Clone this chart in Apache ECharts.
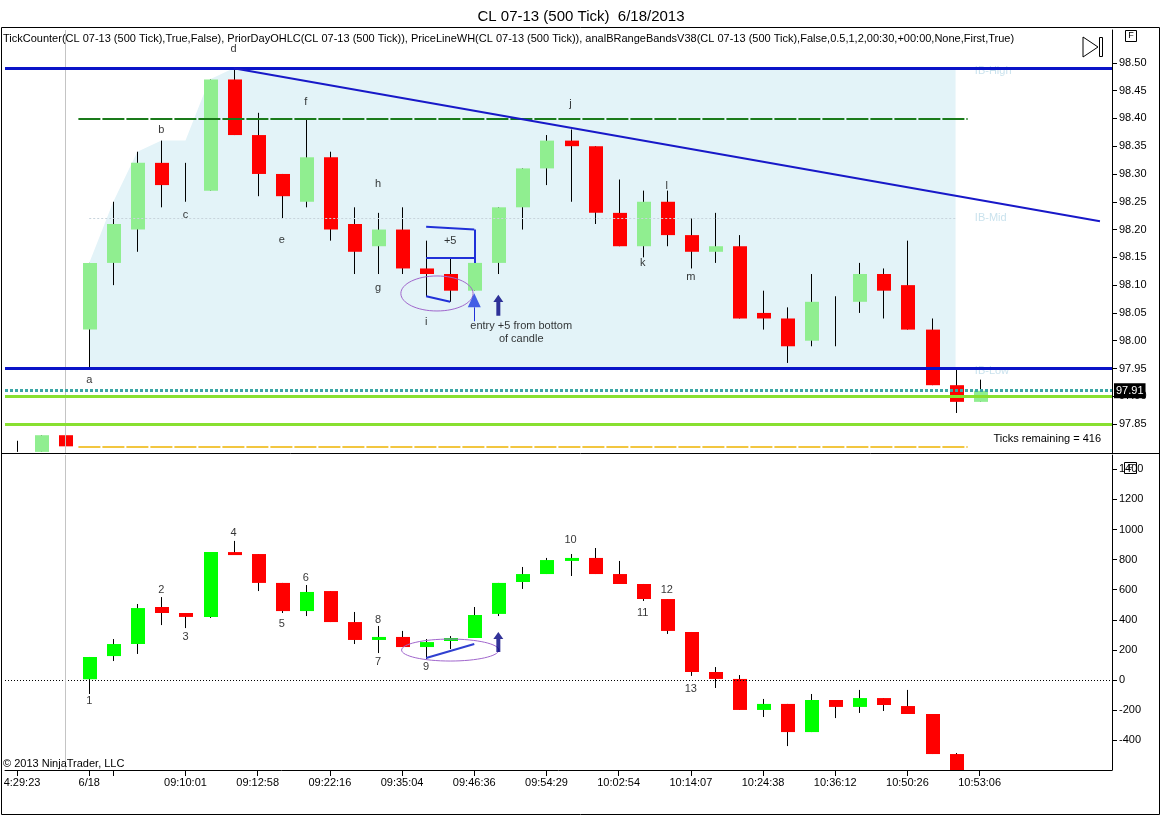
<!DOCTYPE html>
<html>
<head>
<meta charset="utf-8">
<script src="https://cdn.jsdelivr.net/npm/echarts@6/dist/echarts.min.js"></script>
<style>
html, body { margin: 0; padding: 0; background: #fff; }
#main { width: 1162px; height: 816px; }
</style>
</head>
<body>
<div id="main"></div>
<script>
// 500 tick bars, index = bar number
const priceOpen  = [97.81, 97.80, 97.83, 98.02, 98.14, 98.20, 98.32, 98.28, 98.27, 98.47, 98.37, 98.30, 98.25, 98.33, 98.21, 98.17, 98.20, 98.13, 98.12, 98.09, 98.14, 98.24, 98.31, 98.36, 98.35, 98.23, 98.17, 98.25, 98.19, 98.16, 98.17, 98.05, 98.04, 98.00, 98.03, 98.07, 98.12, 98.10, 98.02, 97.92, 97.89];
const priceClose = [97.81, 97.83, 97.81, 98.14, 98.21, 98.32, 98.28, 98.28, 98.47, 98.37, 98.30, 98.26, 98.33, 98.20, 98.16, 98.20, 98.13, 98.12, 98.09, 98.14, 98.24, 98.31, 98.36, 98.35, 98.23, 98.17, 98.25, 98.19, 98.16, 98.17, 98.04, 98.04, 97.99, 98.07, 98.03, 98.12, 98.09, 98.02, 97.92, 97.89, 97.91];
const priceHigh  = [97.82, 97.83, 97.87, 98.14, 98.25, 98.34, 98.36, 98.32, 98.47, 98.49, 98.41, 98.30, 98.40, 98.34, 98.24, 98.23, 98.24, 98.18, 98.15, 98.14, 98.24, 98.31, 98.37, 98.38, 98.35, 98.29, 98.27, 98.27, 98.22, 98.23, 98.19, 98.09, 98.06, 98.12, 98.08, 98.14, 98.13, 98.18, 98.04, 97.95, 97.93];
const priceLow   = [97.80, 97.80, 97.80, 97.95, 98.10, 98.16, 98.24, 98.25, 98.27, 98.37, 98.26, 98.22, 98.24, 98.18, 98.12, 98.12, 98.12, 98.08, 98.07, 98.09, 98.12, 98.20, 98.28, 98.25, 98.21, 98.17, 98.15, 98.17, 98.13, 98.14, 98.04, 98.02, 97.96, 97.99, 97.99, 98.05, 98.04, 98.02, 97.92, 97.87, 97.89];

// lower panel bars (same bar index)
const lowOpen  = [null, null, null, 5, 159, 239, 485, 445, 419, 850, 837, 645, 458, 591, 385, 266, 286, 219, 259, 279, 439, 651, 704, 797, 811, 704, 638, 538, 319, 53, 7, -199, -159, -346, -133, -179, -120, -173, -226, -492, null];
const lowClose = [null, null, null, 153, 239, 478, 445, 419, 850, 837, 645, 458, 585, 385, 266, 286, 219, 252, 279, 432, 645, 704, 797, 811, 704, 638, 538, 326, 53, 7, -199, -159, -346, -133, -179, -120, -166, -226, -492, -620, null];
const lowHigh  = [null, null, null, 153, 272, 505, 551, 445, 850, 924, 837, 645, 631, 591, 452, 359, 326, 272, 292, 485, 645, 751, 811, 837, 877, 791, 638, 538, 319, 86, 33, -126, -159, -93, -133, -66, -120, -66, -226, -485, null];
const lowLow   = [null, null, null, -93, 126, 173, 365, 345, 412, 837, 591, 445, 425, 385, 239, 179, 219, 140, 206, 279, 425, 605, 704, 691, 704, 638, 525, 306, 27, -53, -199, -246, -439, -346, -253, -219, -206, -226, -492, -620, null];

const timeTickBars = [0, 3, 4, 7, 10, 13, 16, 19, 22, 25, 28, 31, 34, 37, 40];
const timeTickText = ['4:29:23', '6/18', '', '09:10:01', '09:12:58', '09:22:16', '09:35:04', '09:46:36', '09:54:29', '10:02:54', '10:14:07', '10:24:38', '10:36:12', '10:50:26', '10:53:06'];
const priceTicks = [97.85, 97.90, 97.95, 98.00, 98.05, 98.10, 98.15, 98.20, 98.25, 98.30, 98.35, 98.40, 98.45, 98.50];
const lowTicks = [-400, -200, 0, 200, 400, 600, 800, 1000, 1200, 1400];

// levels
const ibHigh = 98.49, ibLow = 97.95;
const ibStart = 3, ibEnd = 39;
const priorHigh = 98.40, priorLow = 97.81;
const lineWH = [97.90, 97.85];
const lastPrice = 97.91;
const trendFrom = [9, 98.49], trendTo = [45, 98.215];

// bar notes
const upperNoteText  = ['a', 'b', 'c', 'd', 'e', 'f', 'h', 'g', 'i', 'j', 'k', 'l', 'm'];
const upperNoteBar   = [3, 6, 7, 9, 11, 12, 15, 15, 17, 23, 26, 27, 28];
const upperNotePrice = [97.929, 98.379, 98.226, 98.525, 98.181, 98.43, 98.282, 98.095, 98.034, 98.426, 98.14, 98.279, 98.115];
const lowerNoteText  = ['1', '2', '3', '4', '5', '6', '7', '8', '9', '10', '11', '12', '13'];
const lowerNoteBar   = [3, 6, 7, 9, 11, 12, 15, 15, 17, 23, 26, 27, 28];
const lowerNoteValue = [-140, 598, 286, 977, 372, 678, 122, 399, 86, 930, 445, 598, -60];

const fontFamily = 'Liberation Sans, Arial, sans-serif';

function toCandles(o, c, h, l) {
  const out = [];
  for (let i = 0; i < o.length; i++) {
    if (o[i] == null) continue;
    out.push([i, o[i], c[i], l[i], h[i]]);
  }
  return out;
}

function candleRenderer(upColor, downColor) {
  return function (params, api) {
    const cs = params.coordSys;
    const clampY = y => Math.max(cs.y, Math.min(cs.y + cs.height, y));
    const i = api.value(0), o = api.value(1), c = api.value(2), l = api.value(3), h = api.value(4);
    const pO = api.coord([i, o]), pC = api.coord([i, c]);
    const x = Math.round(pO[0]) + 0.5;
    const yH = clampY(api.coord([i, h])[1]), yL = clampY(api.coord([i, l])[1]);
    const w = 14;
    const top = clampY(Math.min(pO[1], pC[1])), bot = clampY(Math.max(pO[1], pC[1]));
    const kids = [{ type: 'line', shape: { x1: x, y1: yH, x2: x, y2: yL }, style: { stroke: '#000', lineWidth: 1 } }];
    if (o !== c) {
      kids.push({ type: 'rect', shape: { x: Math.round(x - w / 2), y: top, width: w, height: Math.max(bot - top, 3) },
                  style: { fill: c > o ? upColor : downColor } });
    }
    return { type: 'group', children: kids };
  };
}

function ellipseRenderer(params, api) {
  const c = api.coord([api.value(0), api.value(1)]);
  const s = api.size([api.value(2), api.value(3)]);
  return { type: 'ellipse', shape: { cx: c[0], cy: c[1], rx: s[0], ry: s[1] },
           style: { fill: 'none', stroke: '#a066cc', lineWidth: 1 } };
}

let runHigh = -Infinity;
const ibTop = [];
for (let i = ibStart; i <= ibEnd; i++) {
  runHigh = Math.max(runHigh, priceHigh[i]);
  ibTop.push([i, runHigh]);
}
const ibMid = (ibHigh + ibLow) / 2;

const noLabel = { show: false };
const seg = (a, b, style) => [{ coord: a, lineStyle: style }, { coord: b }];
const blueDraw = { color: '#2030d8', width: 2, type: 'solid' };

const chart = echarts.init(document.getElementById('main'));
chart.setOption({
  animation: false,
  textStyle: { fontFamily: fontFamily },
  title: {
    text: 'CL 07-13 (500 Tick)  6/18/2013', left: 'center', top: 4,
    textStyle: { fontSize: 15, fontWeight: 'normal', color: '#000', fontFamily: fontFamily }
  },
  grid: [
    { left: 5, top: 30, width: 1107, height: 423 },
    { left: 5, top: 455, width: 1107, height: 315 }
  ],
  xAxis: [
    { gridIndex: 0, type: 'value', min: -0.5, max: 45.5,
      axisLine: { show: false }, axisTick: { show: false }, axisLabel: { show: false }, splitLine: { show: false } },
    { gridIndex: 1, type: 'value', min: -0.5, max: 45.5,
      axisLine: { show: true, onZero: false, lineStyle: { color: '#000', width: 1 } },
      axisTick: { show: true, customValues: timeTickBars, length: 6, lineStyle: { color: '#000' } },
      axisLabel: {
        customValues: timeTickBars.filter((b, k) => timeTickText[k] !== ''),
        margin: 7, fontSize: 11, color: '#000',
        formatter: function (v) {
          const k = timeTickBars.indexOf(Math.round(v));
          const t = k >= 0 ? timeTickText[k] : '';
          return k === 0 ? '{s|' + t + '}' : t;
        },
        rich: { s: { padding: [0, 0, 0, 10], fontSize: 11, color: '#000' } }
      },
      splitLine: { show: false } }
  ],
  yAxis: [
    { gridIndex: 0, type: 'value', position: 'right', min: 97.798, max: 98.559,
      axisLine: { show: true, onZero: false, lineStyle: { color: '#000' } },
      axisTick: { show: true, customValues: priceTicks, length: 5, lineStyle: { color: '#000' } },
      axisLabel: { customValues: priceTicks, margin: 7, fontSize: 11, color: '#000', formatter: v => v.toFixed(2) },
      splitLine: { show: false } },
    { gridIndex: 1, type: 'value', position: 'right', min: -598, max: 1495,
      axisLine: { show: true, onZero: false, lineStyle: { color: '#000' } },
      axisTick: { show: true, customValues: lowTicks, length: 5, lineStyle: { color: '#000' } },
      axisLabel: { customValues: lowTicks, margin: 7, fontSize: 11, color: '#000', formatter: v => String(Math.round(v)) },
      splitLine: { show: false } }
  ],
  series: [
    { // developing IB band + level lines
      type: 'line', xAxisIndex: 0, yAxisIndex: 0, z: 1,
      data: ibTop, symbol: 'none', lineStyle: { width: 0 },
      areaStyle: { color: '#e3f3f8', opacity: 1, origin: ibLow },
      markLine: {
        silent: true, symbol: ['none', 'none'], label: noLabel,
        data: [
          { xAxis: 2, lineStyle: { color: '#c4c4c4', width: 1, type: 'solid' } },
          seg([ibStart, ibMid], [ibEnd, ibMid], { color: '#c8d4dc', width: 1, type: [2, 2] }),
          { yAxis: ibHigh, lineStyle: { color: '#0a14c8', width: 3, type: 'solid' } },
          { yAxis: ibLow, lineStyle: { color: '#0a14c8', width: 3, type: 'solid' } },
          seg([2.55, priorHigh], [39.5, priorHigh], { color: '#1a7a1a', width: 2, type: [22, 2] }),
          seg([2.55, priorLow], [39.5, priorLow], { color: '#f2c640', width: 2, type: [22, 2] }),
          { yAxis: lineWH[0], lineStyle: { color: '#88e030', width: 3, type: 'solid' } },
          { yAxis: lineWH[1], lineStyle: { color: '#88e030', width: 3, type: 'solid' } },
          { yAxis: lastPrice, lineStyle: { color: '#3aa6a6', width: 3, type: [3, 2] },
            label: { show: true, position: 'end', distance: 2, formatter: lastPrice.toFixed(2),
                     backgroundColor: '#000', color: '#fff', fontSize: 11, padding: [2, 2] } },
          seg(trendFrom, trendTo, { color: '#1818c8', width: 2, type: 'solid' }),
          seg([17, 98.205], [19, 98.20], blueDraw),
          seg([17, 98.15], [19, 98.15], blueDraw),
          seg([19, 98.20], [19, 98.14], blueDraw),
          seg([17, 98.08], [18, 98.07], blueDraw),
          seg([19, 98.06], [19, 98.035], { color: '#2030d8', width: 1, type: 'solid' })
        ]
      }
    },
    { type: 'custom', xAxisIndex: 0, yAxisIndex: 0, z: 2,
      renderItem: candleRenderer('#90ee90', '#ff0000'),
      encode: { x: 0, y: [1, 2, 3, 4] },
      data: toCandles(priceOpen, priceClose, priceHigh, priceLow) },
    { type: 'custom', xAxisIndex: 0, yAxisIndex: 0, z: 6, renderItem: ellipseRenderer,
      encode: { x: 0, y: 1 }, data: [[17.45, 98.085, 1.5, 0.0315]] },
    { type: 'scatter', xAxisIndex: 0, yAxisIndex: 0, z: 6, symbolSize: 0,
      data: upperNoteText.map((t, k) => ({ name: t, value: [upperNoteBar[k], upperNotePrice[k]] }))
        .concat([
          { name: '+5', value: [18, 98.18] },
          { name: 'entry +5 from bottom', value: [20.95, 98.026] },
          { name: 'of candle', value: [20.95, 98.003] }
        ]),
      label: { show: true, position: 'inside', formatter: '{b}', color: '#000', fontSize: 11 } },
    { type: 'scatter', xAxisIndex: 0, yAxisIndex: 0, z: 3, symbolSize: 0,
      data: [
        { name: 'IB-High', value: [39.8, 98.486] },
        { name: 'IB-Mid', value: [39.8, 98.22] },
        { name: 'IB-Low', value: [39.8, 97.946] }
      ],
      label: { show: true, position: 'inside', align: 'left', formatter: '{b}', color: '#bcdbe8', fontSize: 11 } },
    { type: 'scatter', xAxisIndex: 0, yAxisIndex: 0, z: 7, symbol: 'triangle', symbolSize: [13, 14],
      itemStyle: { color: '#1a3ae0' }, data: [[19, 98.073]] },
    { type: 'scatter', xAxisIndex: 0, yAxisIndex: 0, z: 7,
      symbol: 'path://M5,0L10,7L7,7L7,20L3,20L3,7L0,7Z', symbolSize: [10, 21],
      itemStyle: { color: '#000080' }, data: [[20, 98.064]] },

    // lower panel
    { type: 'custom', xAxisIndex: 1, yAxisIndex: 1, z: 2,
      renderItem: candleRenderer('#00ff00', '#ff0000'),
      encode: { x: 0, y: [1, 2, 3, 4] },
      data: toCandles(lowOpen, lowClose, lowHigh, lowLow) },
    { type: 'custom', xAxisIndex: 1, yAxisIndex: 1, z: 6, renderItem: ellipseRenderer,
      encode: { x: 0, y: 1 }, data: [[18.0, 199, 2.02, 73]] },
    { type: 'scatter', xAxisIndex: 1, yAxisIndex: 1, z: 6, symbolSize: 0,
      data: lowerNoteText.map((t, k) => ({ name: t, value: [lowerNoteBar[k], lowerNoteValue[k]] })),
      label: { show: true, position: 'inside', formatter: '{b}', color: '#000', fontSize: 11 },
      markLine: {
        silent: true, symbol: ['none', 'none'], label: noLabel,
        data: [
          { yAxis: 0, lineStyle: { color: '#000', width: 1, type: [1, 2] } },
          { xAxis: 2, lineStyle: { color: '#c4c4c4', width: 1, type: 'solid' } },
          seg([17, 146], [19, 239], { color: '#3040d0', width: 2, type: 'solid' })
        ]
      } },
    { type: 'scatter', xAxisIndex: 1, yAxisIndex: 1, z: 7,
      symbol: 'path://M5,0L10,7L7,7L7,20L3,20L3,7L0,7Z', symbolSize: [10, 20],
      itemStyle: { color: '#000080' }, data: [[20, 252]] }
  ],
  graphic: [
    { type: 'rect', z: 100, silent: true, shape: { x: 1.5, y: 27.5, width: 1158, height: 787 },
      style: { fill: 'none', stroke: '#000', lineWidth: 1 } },
    { type: 'line', z: 100, silent: true, shape: { x1: 1, y1: 453.5, x2: 1160, y2: 453.5 },
      style: { stroke: '#000', lineWidth: 1 } },
    { type: 'text', z: 100, silent: true, x: 3, y: 33,
      style: { text: 'TickCounter(CL 07-13 (500 Tick),True,False), PriorDayOHLC(CL 07-13 (500 Tick)), PriceLineWH(CL 07-13 (500 Tick)), analBRangeBandsV38(CL 07-13 (500 Tick),False,0.5,1,2,00:30,+00:00,None,First,True)',
               fontSize: 11, fontFamily: fontFamily, fill: '#000' } },
    { type: 'polygon', z: 100, silent: true, shape: { points: [[1083, 37], [1083, 57], [1098, 47]] },
      style: { fill: 'none', stroke: '#000', lineWidth: 1 } },
    { type: 'rect', z: 100, silent: true, shape: { x: 1099.5, y: 37.5, width: 3, height: 19 },
      style: { fill: 'none', stroke: '#000', lineWidth: 1 } },
    { type: 'rect', z: 100, silent: true, shape: { x: 1125.5, y: 30.5, width: 11, height: 11 },
      style: { fill: 'none', stroke: '#000', lineWidth: 1 } },
    { type: 'text', z: 100, silent: true, x: 1131, y: 36,
      style: { text: 'F', fontSize: 9, fontFamily: fontFamily, fill: '#000', align: 'center', verticalAlign: 'middle' } },
    { type: 'rect', z: 100, silent: true, shape: { x: 1124.5, y: 462.5, width: 12, height: 11 },
      style: { fill: 'none', stroke: '#000', lineWidth: 1 } },
    { type: 'text', z: 100, silent: true, x: 1130.5, y: 468,
      style: { text: 'F', fontSize: 9, fontFamily: fontFamily, fill: '#000', align: 'center', verticalAlign: 'middle' } },
    { type: 'text', z: 100, silent: true, x: 1101, y: 439,
      style: { text: 'Ticks remaining = 416', fontSize: 11, fontFamily: fontFamily, fill: '#000', align: 'right', verticalAlign: 'middle' } },
    { type: 'text', z: 100, silent: true, x: 3, y: 764,
      style: { text: '\u00a9 2013 NinjaTrader, LLC', fontSize: 11, fontFamily: fontFamily, fill: '#000', verticalAlign: 'middle' } }
  ]
});
</script>
</body>
</html>
